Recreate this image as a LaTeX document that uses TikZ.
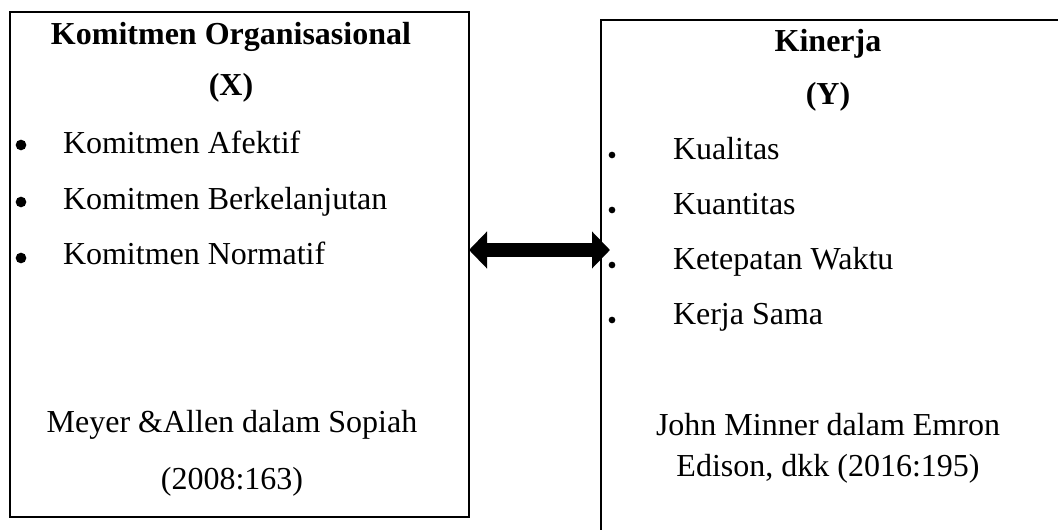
\documentclass[tikz,border=0pt]{standalone}
\usepackage{fontspec}
\setmainfont{Liberation Serif}
\usetikzlibrary{arrows.meta}
\tikzset{
  box/.style={draw=black, line width=1.5pt, rectangle, inner sep=0pt, outer sep=0pt},
  txt/.style={inner sep=0pt, outer sep=0pt, font=\fontsize{24pt}{28pt}\selectfont},
  ttl/.style={txt, font=\fontsize{24pt}{28pt}\selectfont\bfseries, anchor=base},
  itm/.style={txt, anchor=base west},
  cen/.style={txt, anchor=base},
  bigbul/.style={circle, fill=black, inner sep=0pt, outer sep=0pt, minimum size=8pt},
  smallbul/.style={circle, fill=black, inner sep=0pt, outer sep=0pt, minimum size=5pt},
  dblarrow/.style={line width=10.5pt, {Triangle[length=13.5pt 0, width=27pt 0]}-{Triangle[length=13.5pt 0, width=27pt 0]}}
}
\begin{document}
\begin{tikzpicture}[x=0.75pt, y=-0.75pt]
\useasboundingbox (0,0) rectangle (1058,530);
\clip (0,0) rectangle (1058,530);
% boxes
\node[box, minimum width=344.25pt, minimum height=378.75pt] (L) at (239.5,264.5) {};
\node[box, minimum width=351.75pt, minimum height=393.75pt] (R) at (835.5,282.5) {};
% left box text
\node[ttl] (lt1) at (231,45) {Komitmen Organisasional};
\node[ttl] (lt2) at (231,96) {(X)};
\node[bigbul] (lb1) at (21,145) {};
\node[bigbul] (lb2) at (21,202) {};
\node[bigbul] (lb3) at (21,258) {};
\node[itm] (li1) at (63,154) {Komitmen Afektif};
\node[itm] (li2) at (63,210) {Komitmen Berkelanjutan};
\node[itm] (li3) at (63,265) {Komitmen Normatif};
\node[cen] (lr1) at (232,433) {Meyer \&Allen dalam Sopiah};
\node[cen] (lr2) at (232,490) {(2008:163)};
% right box text
\node[ttl] (rt1) at (828,52) {Kinerja};
\node[ttl] (rt2) at (828,105) {(Y)};
\node[smallbul] (rb1) at (612,155) {};
\node[smallbul] (rb2) at (612,210) {};
\node[smallbul] (rb3) at (612,265) {};
\node[smallbul] (rb4) at (612,320) {};
\node[itm] (ri1) at (673,160) {Kualitas};
\node[itm] (ri2) at (673,215) {Kuantitas};
\node[itm] (ri3) at (673,270) {Ketepatan Waktu};
\node[itm] (ri4) at (673,325) {Kerja Sama};
\node[cen] (rr1) at (828,436) {John Minner dalam Emron};
\node[cen] (rr2) at (828,477) {Edison, dkk (2016:195)};
% arrow
\coordinate (ay) at (0,250);
\coordinate (aend) at (610,250);
\draw[dblarrow] (L.east |- ay) -- (aend);
\end{tikzpicture}
\end{document}
